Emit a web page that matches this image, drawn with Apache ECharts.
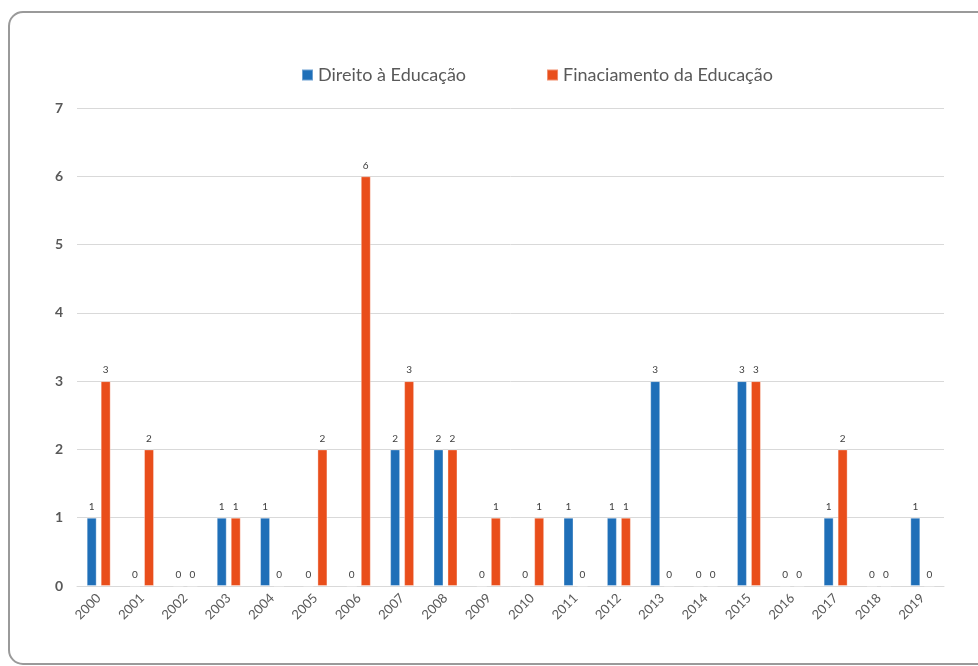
<!DOCTYPE html>
<html>
<head>
<meta charset="utf-8">
<script src="https://cdn.jsdelivr.net/npm/echarts@6/dist/echarts.min.js"></script>
<style>html,body{margin:0;padding:0;background:#fff}#c{width:978px;height:666px}</style>
</head>
<body>
<div id="c"></div>
<script>
const years = ['2000','2001','2002','2003','2004','2005','2006','2007','2008','2009','2010','2011','2012','2013','2014','2015','2016','2017','2018','2019'];
const direito = [1,0,0,1,1,0,0,2,2,0,0,1,1,3,0,3,0,1,0,1];
const financiamento = [3,2,0,1,0,2,6,3,2,1,1,0,1,0,0,3,0,2,0,0];
const yTicks = [0,1,2,3,4,5,6,7];

const chart = echarts.init(document.getElementById('c'), null, {renderer:'canvas'});
const font = 'Lato, "Open Sans", sans-serif';
chart.setOption({
  animation:false,
  color:['#1f6fb8','#e94e1b'],
  graphic:[{type:'rect',shape:{x:9,y:12,width:1000,height:652,r:14},style:{fill:'none',stroke:'#9a9a9a',lineWidth:2},z:-1}],
  legend:{
    top:61, left:296, itemGap:80, itemWidth:11, itemHeight:11, icon:'rect',
    textStyle:{fontFamily:font,fontSize:18,color:'#595959'},
    data:['Direito à Educação','Finaciamento da Educação']
  },
  grid:{left:77,right:34,top:108,bottom:80,containLabel:false},
  xAxis:{
    type:'category', data:years,
    axisTick:{show:false},
    axisLine:{lineStyle:{color:'#d9d9d9'}},
    axisLabel:{rotate:45,fontFamily:font,fontSize:13,color:'#595959',margin:10,interval:0}
  },
  yAxis:{
    type:'value', min:yTicks[0], max:yTicks[yTicks.length-1], interval:1,
    axisLine:{show:false}, axisTick:{show:false},
    splitLine:{lineStyle:{color:'#d9d9d9'}},
    axisLabel:{fontFamily:font,fontSize:14,fontWeight:'bold',color:'#595959',margin:14}
  },
  series:[
    {name:'Direito à Educação',type:'bar',data:direito,barWidth:10,barGap:'40%',
     itemStyle:{borderColor:'rgba(255,255,255,0.35)',borderWidth:1},
     label:{show:true,position:'top',distance:6,fontFamily:font,fontSize:10,color:'#404040'}},
    {name:'Finaciamento da Educação',type:'bar',data:financiamento,barWidth:10,barGap:'40%',
     itemStyle:{borderColor:'rgba(255,255,255,0.35)',borderWidth:1},
     label:{show:true,position:'top',distance:6,fontFamily:font,fontSize:10,color:'#404040'}}
  ]
});
</script>
</body>
</html>
